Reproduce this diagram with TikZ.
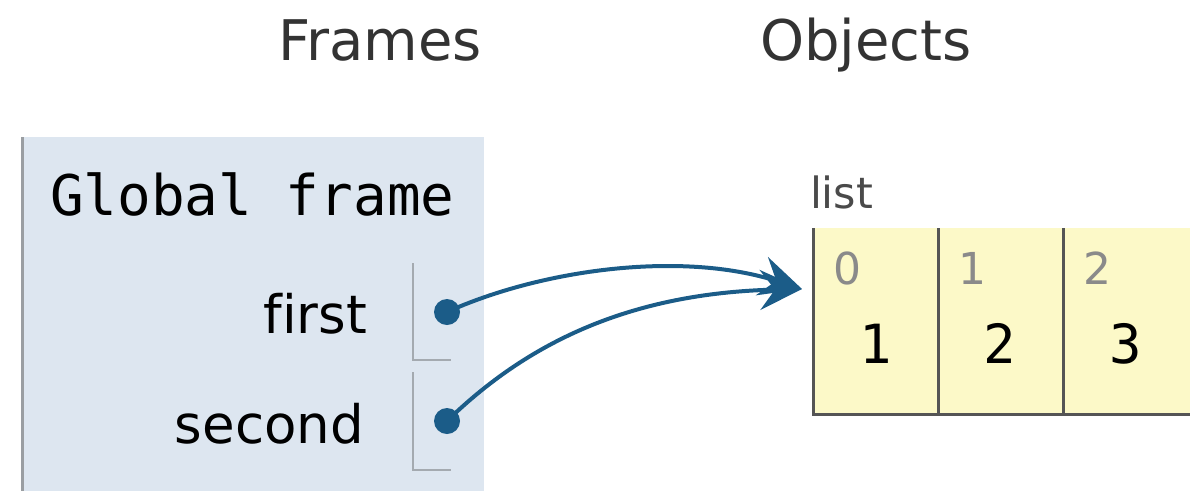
\documentclass[tikz,border=0pt]{standalone}
\usepackage{fontspec}
\setmainfont{DejaVu Sans}[Ligatures=CommonOff]
\setmonofont{DejaVu Sans Mono}
\usetikzlibrary{arrows.meta}

\definecolor{framebg}{HTML}{DDE6F0}
\definecolor{framebar}{HTML}{9A9EA2}
\definecolor{slotline}{HTML}{A4AAB0}
\definecolor{ptr}{HTML}{1B5C88}
\definecolor{listbg}{HTML}{FCF9C8}
\definecolor{listline}{HTML}{555555}
\definecolor{idxgray}{HTML}{8A8A8A}
\definecolor{heading}{HTML}{333333}
\definecolor{typegray}{HTML}{4A4A4A}

\tikzset{
  txt/.style={inner sep=0pt, outer sep=0pt},
  heading/.style={txt, anchor=base west, text=heading, font=\fontsize{56}{60}\selectfont},
  varname/.style={txt, anchor=base east, text=black, font=\fontsize{53}{58}\selectfont},
  slot/.style={draw=slotline, line width=2.5pt},
  dot/.style={circle, fill=ptr, inner sep=0pt, minimum size=26pt},
  ptrarrow/.style={draw=ptr, line width=4pt, -{Stealth[length=42pt, width=40pt, inset=15pt]}},
  idx/.style={txt, anchor=base west, text=idxgray, font=\fontsize{44}{48}\selectfont},
  val/.style={txt, anchor=base, text=black, font=\ttfamily\fontsize{54}{58}\selectfont},
  cellline/.style={draw=listline, line width=3pt},
}

\begin{document}
\begin{tikzpicture}[x=1pt, y=-1pt]
\useasboundingbox (0,0) rectangle (1198,491);

% column headings
\node[heading] (hframes) at (278,60) {Frames};
\node[heading] (hobjects) at (760,60) {Objects};

% global frame box
\fill[framebg] (22,137) rectangle (484,491);
\draw[framebar, line width=3pt] (22,137) -- (22,491);
\node[txt, anchor=base west, font=\ttfamily\fontsize{56}{60}\selectfont] (gf) at (50,215) {Global frame};

% variable names
\node[varname] (vfirst) at (367,333) {first};
\node[varname] (vsecond) at (364,443) {second};

% value slots
\draw[slot] (413,263) -- (413,360) -- (451,360);
\draw[slot] (413,372) -- (413,470) -- (451,470);

% list object
\node[txt, anchor=base west, text=typegray, font=\fontsize{43}{46}\selectfont] (ltype) at (810,208) {list};
\fill[listbg] (813,228) rectangle (1190,414);
\draw[cellline] (813,228) -- (813,414) -- (1190,414);
\draw[cellline] (938,228) -- (938,414);
\draw[cellline] (1063,228) -- (1063,414);

\node[idx] (i0) at (833,284) {0};
\node[idx] (i1) at (958,284) {1};
\node[idx] (i2) at (1083,284) {2};
\node[val] (v0) at (876,363) {1};
\node[val] (v1) at (1000,363) {2};
\node[val] (v2) at (1126,363) {3};

\coordinate (tip) at (802,289);

% pointers
\node[dot] (dfirst) at (447,312) {};
\node[dot] (dsecond) at (447,421) {};
\draw[ptrarrow] (dfirst.center) .. controls (540,270) and (680,250) .. (tip);
\draw[ptrarrow] (dsecond.center) .. controls (520,350) and (620,293) .. (tip);
\end{tikzpicture}
\end{document}
